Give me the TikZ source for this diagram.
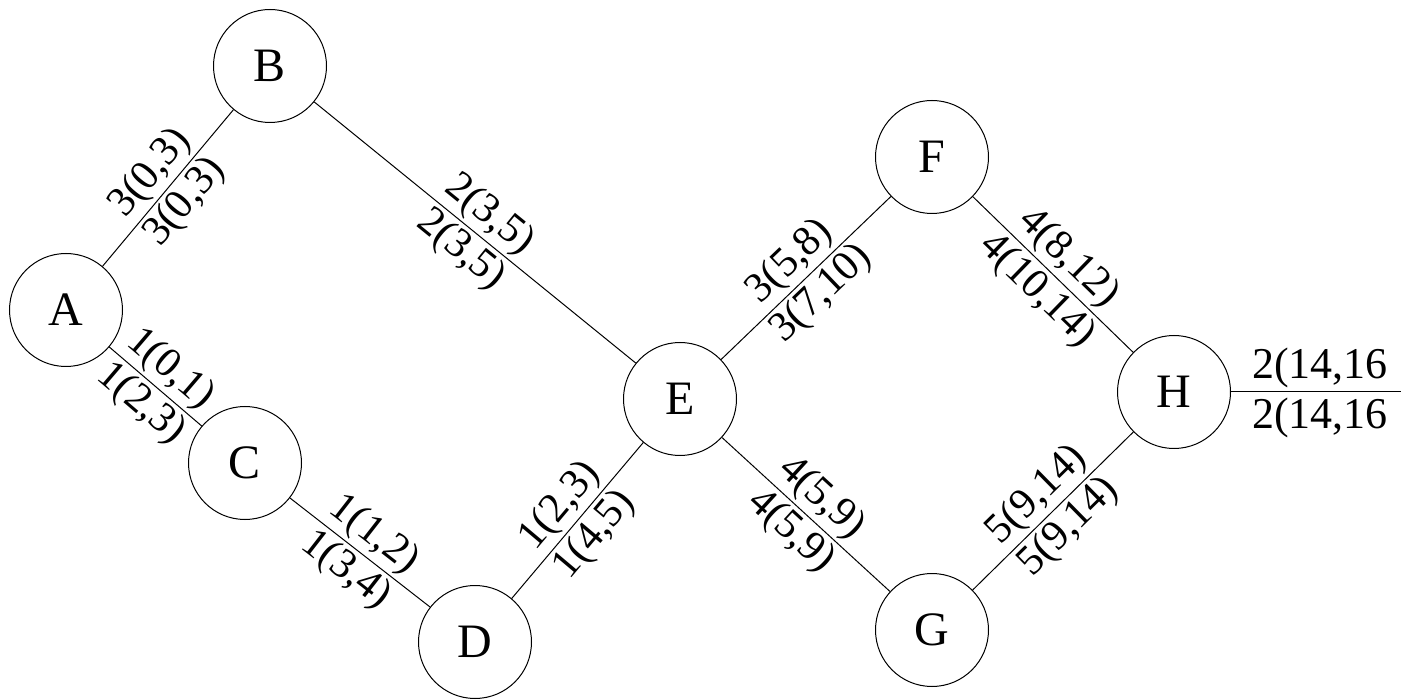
\documentclass[tikz,border=0pt]{standalone}
\usepackage{fontspec}
\setmainfont{Liberation Serif}
\begin{document}
\begin{tikzpicture}[x=1pt,y=-1pt,
  vertex/.style={circle,draw,line width=1pt,minimum size=113pt,inner sep=0pt,font=\fontsize{48}{48}\selectfont},
  edge/.style={line width=1pt},
  lbl/.style={font=\fontsize{42}{42}\selectfont,inner sep=3pt,sloped}]
\useasboundingbox (0,0) rectangle (1401,700);
\node[vertex] (A) at (66,310) {A};
\node[vertex] (B) at (270,66) {B};
\node[vertex] (C) at (245,463) {C};
\node[vertex] (D) at (475,642) {D};
\node[vertex] (E) at (680,399) {E};
\node[vertex] (F) at (932,157) {F};
\node[vertex] (G) at (932,630) {G};
\node[vertex] (H) at (1174,392) {H};
\coordinate (Out) at (1401,392);
\draw[edge] (A) -- node[lbl,above]{3(0,3)} node[lbl,below]{3(0,3)} (B);
\draw[edge] (A) -- node[lbl,above]{1(0,1)} node[lbl,below]{1(2,3)} (C);
\draw[edge] (C) -- node[lbl,above]{1(1,2)} node[lbl,below]{1(3,4)} (D);
\draw[edge] (D) -- node[lbl,above]{1(2,3)} node[lbl,below]{1(4,5)} (E);
\draw[edge] (B) -- node[lbl,above]{2(3,5)} node[lbl,below]{2(3,5)} (E);
\draw[edge] (E) -- node[lbl,above]{3(5,8)} node[lbl,below]{3(7,10)} (F);
\draw[edge] (F) -- node[lbl,above]{4(8,12)} node[lbl,below]{4(10,14)} (H);
\draw[edge] (E) -- node[lbl,above]{4(5,9)} node[lbl,below]{4(5,9)} (G);
\draw[edge] (G) -- node[lbl,above]{5(9,14)} node[lbl,below]{5(9,14)} (H);
\draw[edge] (H) -- (Out);
\node[font=\fontsize{44}{44}\selectfont,anchor=south west,inner sep=2pt] (L1) at (1250,390) {2(14,16};
\node[font=\fontsize{44}{44}\selectfont,anchor=north west,inner sep=2pt] (L2) at (1250,396) {2(14,16};
\end{tikzpicture}
\end{document}
